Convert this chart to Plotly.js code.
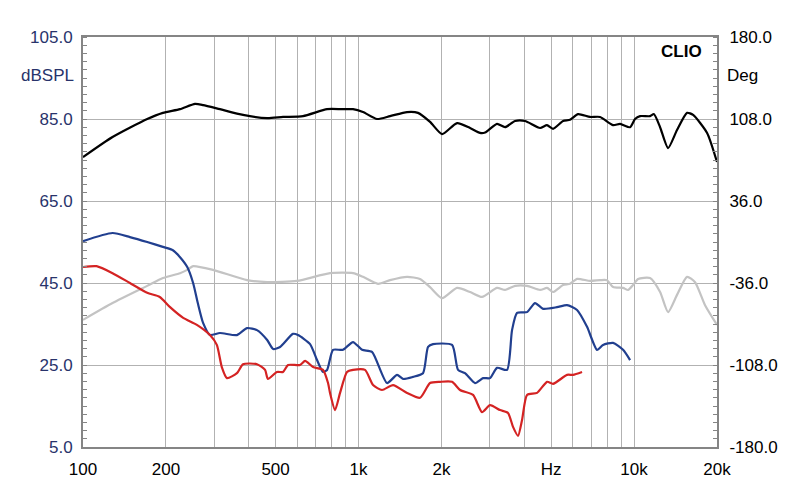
<!DOCTYPE html>
<html>
<head>
<meta charset="utf-8">
<script src="https://cdn.plot.ly/plotly-3.0.1.min.js"></script>
<style>html,body{margin:0;padding:0;background:#fff;}#chart{width:800px;height:504px;}</style>
</head>
<body>
<div id="chart"></div>
<script>
// Frequency response (dBSPL) – black
const BLACK_F = [100,128,171,195,225,255,273,314,381,466,532,629,769,868,955,1038,1167,1301,1500,1644,1818,2010,2278,2540,2760,2880,3182,3402,3700,4020,4560,4830,5080,5524,5857,6262,6924,7526,8392,8900,9672,10080,10515,11430,11800,12430,13290,14320,15570,16380,18410,20000];
const BLACK_DB = [75.7,80.6,85.0,86.5,87.4,88.7,88.4,87.4,86.0,85.2,85.5,85.7,87.4,87.4,87.4,86.7,85.0,85.7,86.7,86.5,84.3,81.3,84.0,82.8,81.6,81.7,83.8,83.0,84.5,84.5,82.8,83.5,82.6,84.5,84.8,86.2,85.5,85.5,83.5,83.8,83.0,85.0,85.7,85.7,86.2,83.0,77.9,82.3,86.5,86.0,81.6,74.5];

// Grey curve
const GREY_F = [100,128,171,195,225,239,251,296,394,466,598,788,955,1038,1177,1301,1500,1672,1818,2010,2278,2540,2807,3182,3402,3700,4089,4560,4834,5082,5524,5857,6210,6924,7526,7980,8392,9123,9510,9918,10340,11430,12430,13290,14320,15570,16650,18100,20000];
const GREY_DB = [36.0,40.1,44.3,46.2,47.4,48.2,49.1,48.2,45.7,45.2,45.5,47.4,47.4,46.5,44.8,45.7,46.5,46.0,44.0,41.3,43.8,42.8,41.6,43.8,43.3,44.3,44.3,43.3,43.8,42.8,44.5,44.8,46.0,45.5,45.7,45.7,44.0,43.8,43.3,44.5,46.0,46.2,42.8,37.9,42.1,46.5,45.2,39.6,34.8];

// Blue curve
const BLUE_F = [100,128,148,171,195,212,225,239,251,261,273,289,314,362,394,428,466,490,519,578,603,667,707,743,769,808,878,955,1030,1119,1269,1380,1451,1577,1714,1788,1864,2185,2297,2435,2648,2831,3001,3182,3459,3607,3761,4089,4372,4676,5254,5713,6210,6751,7340,7717,8392,9123,9672];
const BLUE_DB = [55.2,57.2,56.2,55.0,53.8,53.0,51.3,48.9,45.0,40.1,35.2,32.3,32.8,32.3,34.0,33.5,31.1,28.9,29.4,32.6,32.3,30.1,26.2,23.3,23.8,28.7,28.7,30.6,28.7,28.2,20.6,22.6,21.6,22.1,23.0,29.4,30.1,29.9,23.8,23.0,20.6,21.8,21.8,24.3,23.8,33.5,37.7,37.9,40.1,38.7,39.1,39.6,38.4,34.3,28.7,29.9,30.4,28.7,26.2];

// Red curve
const RED_F = [100,112,128,148,171,190,207,231,259,289,306,319,333,362,381,428,458,469,506,532,555,613,640,684,743,775,788,822,857,908,955,1056,1129,1217,1334,1500,1672,1818,1977,2185,2336,2604,2807,3001,3263,3488,3637,3792,3922,4089,4446,4834,5082,5713,6006,6475];
const RED_DB = [48.9,49.1,47.4,45.0,42.6,41.6,39.1,36.5,34.8,32.3,29.9,24.5,21.8,23.0,25.2,25.2,23.8,21.6,23.3,23.3,25.0,25.0,26.0,24.5,23.8,20.6,18.2,14.0,18.2,23.3,23.8,23.8,20.1,18.9,20.1,18.2,17.0,20.6,20.9,20.9,18.9,17.7,13.5,15.2,14.0,13.3,9.9,7.7,11.6,17.7,18.2,20.9,20.4,22.6,22.6,23.3];

// Axis ticks
const X_GRID = [100,200,300,400,500,600,700,800,900,1000,2000,3000,4000,5000,6000,7000,8000,9000,10000,20000];
const X_LABELS = ['100','200','','','500','','','','','1k','2k','','','Hz','','','','','10k','20k'];
const Y_TICKS = [5,25,45,65,85,105];
const Y_LABELS = ['5.0','25.0','45.0','65.0','85.0','105.0'];
const Y2_TICKS = [-180,-108,-36,36,108,180];
const Y2_LABELS = ['-180.0','-108.0','-36.0','36.0','108.0','180.0'];

const FONT = 'Arial, "Liberation Sans", sans-serif';
const NAVY = '#28336b';
const GRID = '#b2b2b2';
const FRAME = '#858585';

function tr(x, y, color) {
  return {x: x, y: y, type: 'scatter', mode: 'lines', hoverinfo: 'skip',
          line: {color: color, width: 2.2, shape: 'spline', smoothing: 0.6}};
}

const data = [
  tr(GREY_F, GREY_DB, '#c3c3c3'),
  tr(BLACK_F, BLACK_DB, '#000000'),
  tr(BLUE_F, BLUE_DB, '#213f8f'),
  tr(RED_F, RED_DB, '#d42323'),
  {x: [100, 20000], y: [0, 0], yaxis: 'y2', type: 'scatter', mode: 'lines',
   line: {width: 0}, hoverinfo: 'skip', showlegend: false}
];

const layout = {
  width: 800, height: 504,
  margin: {l: 83, r: 83, t: 37, b: 57},
  paper_bgcolor: '#ffffff', plot_bgcolor: '#ffffff',
  showlegend: false,
  font: {family: FONT, size: 17, color: '#000'},
  xaxis: {
    type: 'log', range: [2, Math.log10(20000)],
    tickmode: 'array', tickvals: X_GRID, ticktext: X_LABELS,
    ticks: '', showgrid: true, gridcolor: GRID, gridwidth: 1,
    showline: true, mirror: true, linecolor: FRAME, linewidth: 2,
    tickfont: {family: FONT, size: 17, color: '#000'},
    ticklabelstandoff: 6, zeroline: false, fixedrange: true
  },
  yaxis: {
    range: [5, 105], tickmode: 'array', tickvals: Y_TICKS, ticktext: Y_LABELS,
    ticks: '', showgrid: true, gridcolor: GRID, gridwidth: 1,
    showline: true, mirror: true, linecolor: FRAME, linewidth: 2,
    tickfont: {family: FONT, size: 17, color: NAVY},
    ticklabelstandoff: 5, zeroline: false,
    minor: {tickmode: 'linear', tick0: 5, dtick: 2, ticks: 'inside', ticklen: 4, tickcolor: FRAME, showgrid: false}
  },
  yaxis2: {
    overlaying: 'y', side: 'right', range: [-180, 180],
    tickmode: 'array', tickvals: Y2_TICKS, ticktext: Y2_LABELS,
    ticks: '', showgrid: false, showline: true, linecolor: FRAME, linewidth: 2,
    tickfont: {family: FONT, size: 17, color: '#000'},
    ticklabelstandoff: 7, zeroline: false,
    minor: {tickmode: 'linear', tick0: -180, dtick: 7.2, ticks: 'inside', ticklen: 4, tickcolor: FRAME, showgrid: false}
  },
  annotations: [
    {text: 'dBSPL', xref: 'paper', yref: 'paper', x: -0.011, y: 0.905, xanchor: 'right', yanchor: 'middle',
     showarrow: false, font: {family: FONT, size: 17, color: NAVY}},
    {text: 'Deg', xref: 'paper', yref: 'paper', x: 1.013, y: 0.905, xanchor: 'left', yanchor: 'middle',
     showarrow: false, font: {family: FONT, size: 17, color: '#000'}},
    {text: '<b>CLIO</b>', xref: 'paper', yref: 'paper', x: 0.98, y: 0.965, xanchor: 'right', yanchor: 'middle',
     showarrow: false, font: {family: FONT, size: 17, color: '#000'}}
  ]
};

Plotly.newPlot('chart', data, layout, {staticPlot: true, displayModeBar: false});
</script>
</body>
</html>
